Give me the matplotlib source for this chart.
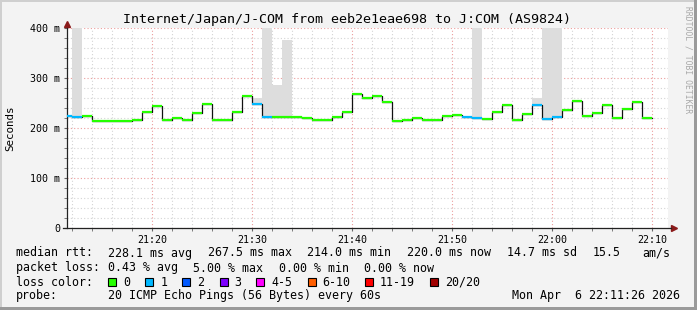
import matplotlib
matplotlib.use("Agg")
from matplotlib import pyplot as plt
from matplotlib.patches import Rectangle
from matplotlib.ticker import MultipleLocator, FixedLocator

# minutes after 21:00, each sample covers one minute
minutes = list(range(11, 70))
median_ms = [224, 221.5, 224, 214, 214, 214, 214, 216.5, 232, 244.5,
             216, 219.5, 216, 230, 248, 216.5, 216.5, 232, 264.5, 248,
             222, 222, 222, 222, 219.5, 216.5, 216.5, 221.5, 232, 267.5,
             260.5, 264.5, 252.5, 214, 216.5, 220.5, 216.5, 216.5, 224.5, 226.5,
             222.5, 220.5, 218.5, 232, 246, 216.5, 228.5, 246.5, 218.5, 222.5,
             236.5, 254.5, 224.5, 230.5, 246.5, 220.5, 238.5, 252.5, 220]
lost = [1, 1, 0, 0, 0, 0, 0, 0, 0, 0,
        0, 0, 0, 0, 0, 0, 0, 0, 0, 1,
        1, 0, 0, 0, 0, 0, 0, 0, 0, 0,
        0, 0, 0, 0, 0, 0, 0, 0, 0, 0,
        1, 1, 0, 0, 0, 0, 0, 1, 1, 1,
        0, 0, 0, 0, 0, 0, 0, 0, 0]
# top of the smoke (ms) for the minutes that show any
smoke_top = {12: 420, 15: 217, 30: 261, 31: 420, 32: 287, 33: 377,
             52: 420, 58: 261, 59: 420, 60: 420, 64: 233}

xtick_pos = [20, 30, 40, 50, 60, 70]
xtick_lab = ["21:20", "21:30", "21:40", "21:50", "22:00", "22:10"]
ytick_pos = [0, 100, 200, 300, 400]
ytick_lab = ["0", "100 m", "200 m", "300 m", "400 m"]

loss_names = ["0", "1", "2", "3", "4-5", "6-10", "11-19", "20/20"]
loss_colors = ["#26ff00", "#00b8ff", "#0059ff", "#7e00ff", "#ff00ff",
               "#ff5e00", "#ff0000", "#a10000"]

W, H = 697, 310
MONO = "DejaVu Sans Mono"
fig = plt.figure(figsize=(W / 100, H / 100), dpi=100, facecolor="#f3f3f3")


def ftext(x, y, s, **kw):
    kw.setdefault("family", MONO)
    kw.setdefault("fontsize", 8.4)
    kw.setdefault("va", "center")
    fig.text(x / W, 1 - y / H, s, **kw)


ax = fig.add_axes([67 / W, 1 - 228 / H, 601 / W, 200 / H])
ax.set_facecolor("white")
ax.set_xlim(11.5, 71.6)
ax.set_ylim(0, 400)

# grid
ax.xaxis.set_major_locator(FixedLocator(xtick_pos))
ax.xaxis.set_minor_locator(MultipleLocator(2))
ax.yaxis.set_major_locator(FixedLocator(ytick_pos))
ax.yaxis.set_minor_locator(MultipleLocator(20))
ax.grid(which="minor", color="#d4d4d4", linestyle=(0, (1, 2)), linewidth=0.8)
ax.grid(which="major", color="#eb9c9c", linestyle=(0, (1, 2)), linewidth=0.8)
ax.set_axisbelow(True)

# smoke
for m, top in smoke_top.items():
    v = median_ms[minutes.index(m)]
    ax.bar(m, top - v, bottom=v, width=1, align="edge", color="#dddddd",
           linewidth=0, zorder=2)

# median line: black risers, coloured flats
ax.step(minutes + [70], median_ms + [median_ms[-1]], where="post",
        color="#111111", linewidth=0.9, zorder=3)
for m, v, l in zip(minutes, median_ms, lost):
    ax.hlines(v, m, m + 1, color=loss_colors[l], linewidth=1.6, zorder=4)

ax.set_xticks(xtick_pos)
ax.set_xticklabels(xtick_lab)
ax.set_yticks(ytick_pos)
ax.set_yticklabels(ytick_lab)
ax.tick_params(which="both", labelsize=7.2, length=2, color="#666666", pad=3)
for lab in ax.get_xticklabels() + ax.get_yticklabels():
    lab.set_family(MONO)

for s in ["top", "right"]:
    ax.spines[s].set_visible(False)
for s in ["left", "bottom"]:
    ax.spines[s].set_color("#222222")
    ax.spines[s].set_linewidth(0.9)
ax.spines["bottom"].set_bounds(11.1, 71.9)
ax.plot([1.01], [0], marker=">", color="#8b1a1a", markersize=4,
        transform=ax.transAxes, clip_on=False)
ax.plot([0], [1.02], marker="^", color="#8b1a1a", markersize=4,
        transform=ax.transAxes, clip_on=False)

# titles
ftext(347, 20, "Internet/Japan/J-COM from eeb2e1eae698 to J:COM (AS9824)",
      fontsize=9.6, ha="center")
ftext(10, 128, "Seconds", fontsize=7.8, ha="center", rotation=90)
ftext(688, 60, "RRDTOOL / TOBI OETIKER", fontsize=5.8, ha="center",
      rotation=270, color="#a8a8a8")

# legend
ftext(16, 253, "median rtt:")
for x, s in [(107.6, "228.1 ms avg"), (207.6, "267.5 ms max"),
             (307, "214.0 ms min"), (407, "220.0 ms now"),
             (506.7, "14.7 ms sd"), (593, "15.5"), (642, "am/s")]:
    ftext(x, 253, s)
ftext(16, 268, "packet loss:")
for x, s in [(107.6, "0.43 % avg"), (193.3, "5.00 % max"),
             (279, "0.00 % min"), (364, "0.00 % now")]:
    ftext(x, 268, s)
ftext(16, 282, "loss color:")
box_x = [108.4, 145.3, 182, 219.6, 256.4, 307.6, 365, 430]
for bx, name, c in zip(box_x, loss_names, loss_colors):
    fig.patches.append(Rectangle((bx / W, 1 - 286 / H), 8 / W, 8 / H,
                                 transform=fig.transFigure, facecolor=c,
                                 edgecolor="black", linewidth=0.8))
    ftext(bx + 15, 282, name)
ftext(16, 296, "probe:")
ftext(107.6, 296, "20 ICMP Echo Pings (56 Bytes) every 60s")
ftext(512.4, 296, "Mon Apr  6 22:11:26 2026")

# frame around the canvas
fig.patches.append(Rectangle((0, 1 - 2 / H), 1, 2 / H, transform=fig.transFigure,
                             facecolor="#cfcfcf", linewidth=0))
fig.patches.append(Rectangle((0, 0), 2 / W, 1, transform=fig.transFigure,
                             facecolor="#cfcfcf", linewidth=0))
fig.patches.append(Rectangle((1 - 3 / W, 0), 3 / W, 1, transform=fig.transFigure,
                             facecolor="#9a9a9a", linewidth=0))
fig.patches.append(Rectangle((0, 0), 1, 3 / H, transform=fig.transFigure,
                             facecolor="#9a9a9a", linewidth=0))

fig.savefig("out.png", dpi=100, facecolor=fig.get_facecolor())
